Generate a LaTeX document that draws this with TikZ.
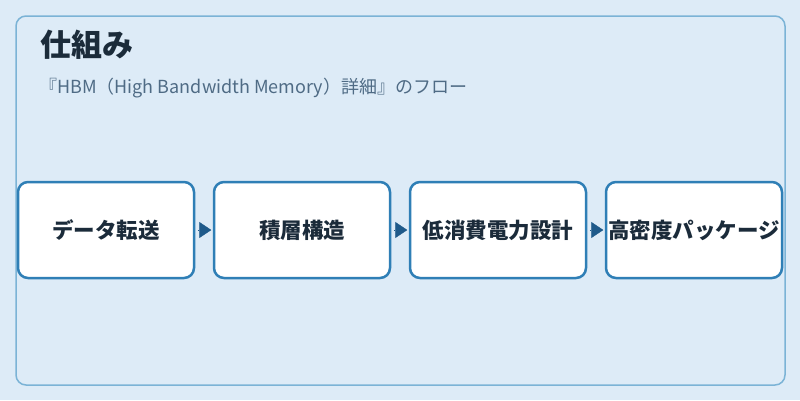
\documentclass[tikz,border=0pt]{standalone}
\usepackage{fontspec}
\setmainfont{Noto Sans CJK JP}
\usepackage{xcolor}
\usetikzlibrary{arrows.meta}
\definecolor{bgblue}{HTML}{DDEBF7}
\definecolor{framecol}{HTML}{7BB3D6}
\definecolor{boxline}{HTML}{2F7FB6}
\definecolor{arrowcol}{HTML}{1F5A8A}
\definecolor{titlecol}{HTML}{1B2B3A}
\definecolor{subcol}{HTML}{4F6B85}

\begin{document}
\begin{tikzpicture}[x=1pt, y=-1pt,
  stepbox/.style={draw=boxline, line width=2.5pt, fill=white, rounded corners=10pt,
    minimum width=176pt, minimum height=96pt, inner sep=1pt,
    font=\fontsize{21.5}{25}\selectfont\bfseries, text=titlecol},
  flow/.style={-{Triangle[length=12pt, width=16pt]}, arrowcol, line width=0.4pt,
    shorten <=2.5pt, shorten >=1.5pt}]
\def \gap {196}
\fill[bgblue] (0,0) rectangle (800,400);
\useasboundingbox (0,0) rectangle (800,400);
\draw[framecol, line width=1.5pt, rounded corners=10pt] (16,16) rectangle (785,385);
\node[anchor=west, inner sep=0pt, text=titlecol, font=\fontsize{31}{36}\selectfont\bfseries] at (40,45) (title) {仕組み};
\node[anchor=west, inner sep=0pt, text=subcol, font=\fontsize{18}{21}\selectfont] at (39,88) (sub) {『HBM（High Bandwidth Memory）詳細』のフロー};
\node[stepbox] at (106,230) (s1) {データ転送};
\node[stepbox] at (106+\gap,230) (s2) {積層構造};
\node[stepbox] at (106+2*\gap,230) (s3) {低消費電力設計};
\node[stepbox] at (106+3*\gap,230) (s4) {高密度パッケージ};
\path[flow] (s1) edge (s2);
\path[flow] (s2) edge (s3);
\path[flow] (s3) edge (s4);
\end{tikzpicture}
\end{document}
